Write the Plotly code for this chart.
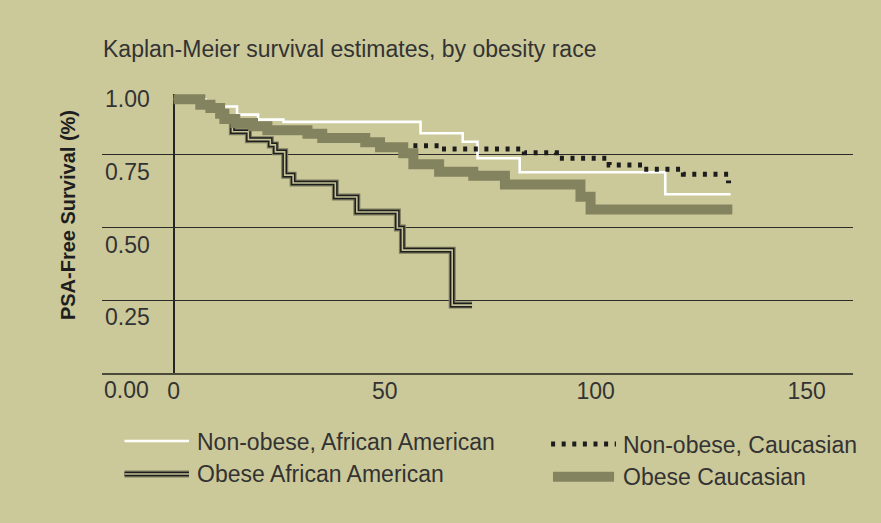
import plotly.graph_objects as go

# Kaplan-Meier PSA-free survival curves (time in months, survival as a fraction)
months_nonobese_aa = [0, 7.5, 15, 20, 26, 58.5, 68.5, 72, 82, 116.5, 132]
surv_nonobese_aa = [1.0, 0.975, 0.947, 0.93, 0.922, 0.883, 0.854, 0.797, 0.749, 0.673, 0.673]

months_nonobese_cau = [0, 6.3, 8.7, 11.0, 12.0, 14.6, 18.8, 22.2, 31.7, 35.2, 45.4, 48.9,
                       62.9, 83.1, 90.7, 103.2, 111.3, 120.8, 131.5]
surv_nonobese_cau = [1.0, 0.981, 0.970, 0.950, 0.932, 0.918, 0.907, 0.893, 0.881, 0.867, 0.852, 0.840,
                     0.829, 0.816, 0.797, 0.774, 0.759, 0.742, 0.711]

months_obese_aa = [0, 6.3, 8.7, 11.0, 12.0, 13.9, 17.7, 22.9, 24.1, 26.3, 28.3, 38.3, 43.4, 53.0,
                   54.2, 66.0, 70.7]
surv_obese_aa = [1.0, 0.981, 0.970, 0.950, 0.932, 0.888, 0.861, 0.843, 0.819, 0.739, 0.712, 0.664,
                 0.612, 0.557, 0.481, 0.292, 0.292]

months_obese_cau = [0, 6.3, 8.7, 11.0, 12.0, 14.6, 18.8, 22.2, 31.7, 35.2, 45.4, 48.9, 54.4, 56.8,
                    62.9, 71.0, 78.5, 96.4, 98.8, 132.4]
surv_obese_cau = [1.0, 0.981, 0.970, 0.950, 0.932, 0.918, 0.907, 0.893, 0.881, 0.867, 0.852, 0.835,
                  0.814, 0.776, 0.751, 0.737, 0.707, 0.665, 0.621, 0.621]

x_ticks = [0, 50, 100, 150]
y_ticks = [0.25, 0.50, 0.75, 1.00]
y_tick_text = ["0.25", "0.50", "0.75", "1.00"]
grid_levels = [0.25, 0.50, 0.75]

series_names = ["Non-obese, African American", "Non-obese, Caucasian",
                "Obese African American", "Obese Caucasian"]

BG = "#CBC99A"
BAND = "#84835F"
INK = "#333333"
FONT = "Liberation Sans, Arial, sans-serif"
DOT_DASH = "4px,6.6px"
TRIPLE = [("#7b7a5c", 7), ("#1e1e1e", 4.6), ("#c4c296", 1.6)]

fig = go.Figure()

# non-obese African American: thin white step line
fig.add_trace(go.Scatter(x=months_nonobese_aa, y=surv_nonobese_aa, mode="lines",
                         line=dict(shape="hv", color="white", width=2.6),
                         name=series_names[0]))

# non-obese Caucasian: dotted step line
fig.add_trace(go.Scatter(x=months_nonobese_cau, y=surv_nonobese_cau, mode="lines",
                         line=dict(shape="hv", color="#1c1c1c", width=5, dash=DOT_DASH),
                         name=series_names[1]))

# obese African American: layered "double rule" step line
for col, w in TRIPLE:
    fig.add_trace(go.Scatter(x=months_obese_aa, y=surv_obese_aa, mode="lines",
                             line=dict(shape="hv", color=col, width=w),
                             name=series_names[2]))

# obese Caucasian: thick olive band
fig.add_trace(go.Scatter(x=months_obese_cau, y=surv_obese_cau, mode="lines",
                         line=dict(shape="hv", color=BAND, width=10),
                         name=series_names[3]))

# carrier for the horizontal rule axis
fig.add_trace(go.Scatter(x=[], y=[], yaxis="y2", showlegend=False))

# ---- legend keys (drawn below the plot area, paper coordinates) ----
shapes = []
annotations = []

def key_line(x0, x1, y, color, width, dash=None):
    shapes.append(dict(type="line", xref="paper", yref="paper", x0=x0, x1=x1, y0=y, y1=y,
                       line=dict(color=color, width=width, dash=dash)))

def key_text(x, y, text):
    annotations.append(dict(xref="paper", yref="paper", x=x, y=y, text=text, showarrow=False,
                            xanchor="left", yanchor="middle",
                            font=dict(family=FONT, size=23, color=INK)))

left_x0, left_x1, left_tx = 0.030, 0.1158, 0.1235
right_x0, right_x1, right_tx = 0.598, 0.6844, 0.6915

key_line(left_x0, left_x1, -0.2437, "white", 2.6)
key_text(left_tx, -0.247, series_names[0])

key_line(right_x0, right_x1, -0.2545, "#1c1c1c", 5, DOT_DASH)
key_text(right_tx, -0.258, series_names[1])

for col, w in TRIPLE:
    key_line(left_x0, left_x1, -0.362, col, w)
key_text(left_tx, -0.362, series_names[2])

key_line(0.6005, 0.6818, -0.3717, BAND, 10)
key_text(right_tx, -0.372, series_names[3])

# bottom-left "0.00" label on the row of month labels
annotations.append(dict(xref="paper", yref="paper", x=0, y=0, yshift=-17, text="0.00",
                        showarrow=False, xanchor="left", yanchor="middle",
                        font=dict(family=FONT, size=23, color=INK)))

# vertical axis title
annotations.append(dict(xref="paper", yref="paper", x=-0.0453, y=0.566,
                        text="<b>PSA-Free Survival (%)</b>", textangle=-90, showarrow=False,
                        xanchor="center", yanchor="middle",
                        font=dict(family=FONT, size=20, color="#1e1e1e")))

fig.update_layout(
    width=881, height=523,
    margin=dict(l=102, r=28, t=94, b=150),
    paper_bgcolor=BG, plot_bgcolor=BG,
    showlegend=False,
    title=dict(text="Kaplan-Meier survival estimates, by obesity race",
               x=103 / 881, xanchor="left", xref="container",
               y=1 - 49 / 523, yanchor="middle", yref="container",
               font=dict(family=FONT, size=23, color=INK)),
    xaxis=dict(range=[-17, 161], tickvals=x_ticks, showgrid=False,
               zeroline=True, zerolinecolor="#262626", zerolinewidth=1.5,
               showline=True, linecolor="#4a4a3a", linewidth=2,
               ticks="", ticklabelstandoff=-4,
               tickfont=dict(family=FONT, size=23, color=INK)),
    yaxis=dict(range=[0.0585, 1.018], tickvals=y_ticks, ticktext=y_tick_text,
               ticklabelposition="inside", ticklabeloverflow="allow",
               ticks="", showgrid=False, zeroline=False,
               showline=False, tickfont=dict(family=FONT, size=23, color=INK)),
    yaxis2=dict(overlaying="y", range=[0, 0.9555], tickvals=grid_levels,
                showticklabels=False, ticks="", showgrid=True, gridcolor="#2a2a2a",
                gridwidth=1.4, zeroline=False, showline=False),
    shapes=shapes,
    annotations=annotations,
)

fig.write_html("out.html")
